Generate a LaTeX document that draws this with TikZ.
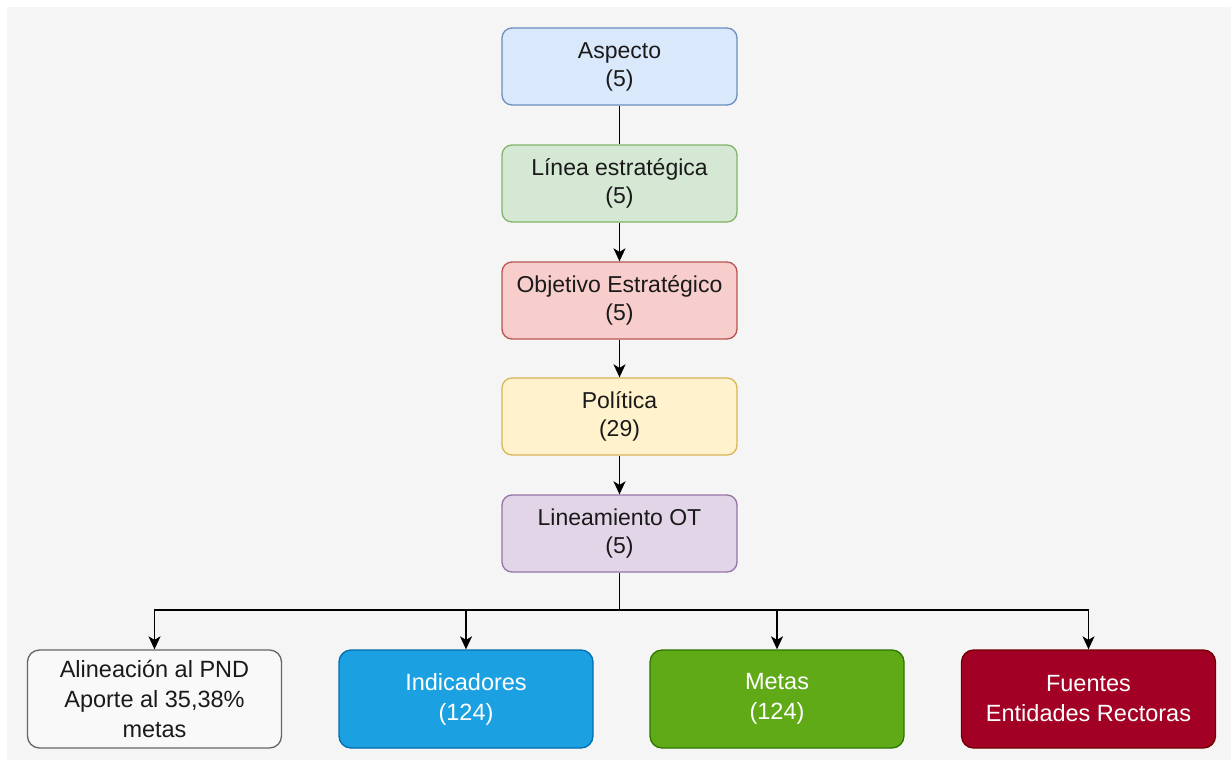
\documentclass[tikz,border=0pt]{standalone}
\usepackage{fontspec}
\setmainfont{Liberation Sans}
\usetikzlibrary{arrows.meta}
\definecolor{bluef}{HTML}{DAE8FC}\definecolor{blued}{HTML}{6C8EBF}
\definecolor{greenf}{HTML}{D5E8D4}\definecolor{greend}{HTML}{82B366}
\definecolor{redf}{HTML}{F8CECC}\definecolor{redd}{HTML}{B85450}
\definecolor{yellowf}{HTML}{FFF2CC}\definecolor{yellowd}{HTML}{D6B656}
\definecolor{purplef}{HTML}{E1D5E7}\definecolor{purpled}{HTML}{9673A6}
\definecolor{grayf}{HTML}{F9F9F9}\definecolor{grayd}{HTML}{666666}
\definecolor{indf}{HTML}{1BA1E2}\definecolor{indd}{HTML}{006EAF}
\definecolor{metf}{HTML}{60A917}\definecolor{metd}{HTML}{2D7600}
\definecolor{fuef}{HTML}{A20025}\definecolor{fued}{HTML}{6F0000}
\definecolor{bg}{HTML}{F5F5F5}
\definecolor{txt}{HTML}{1A1A1A}
\tikzset{
  topbox/.style={draw, line width=1.3pt, rounded corners=10pt, minimum width=235pt, minimum height=77pt, align=center, font=\fontsize{23}{28}\selectfont, text=txt, inner sep=0pt},
  botbox/.style={draw, line width=1.3pt, rounded corners=12pt, minimum width=254pt, minimum height=98pt, align=center, font=\fontsize{23.5}{30}\selectfont, inner sep=0pt},
  conn/.style={line width=1.6pt, draw=black},
  arr/.style={conn, -{Stealth[length=13pt, width=12pt, inset=3.5pt]}}
}
\begin{document}
\begin{tikzpicture}[x=1pt, y=-1pt]
\useasboundingbox (0,0) rectangle (1231,760);
\fill[white] (0,0) rectangle (1231,760);
\fill[bg] (7,7) rectangle (1231,760);
\node[topbox, fill=bluef, draw=blued] (asp) at (619.5,66.5) {Aspecto\\(5)};
\node[topbox, fill=greenf, draw=greend] (lin) at (619.5,183.5) {Línea estratégica\\(5)};
\node[topbox, fill=redf, draw=redd] (obj) at (619.5,300.5) {Objetivo Estratégico\\(5)};
\node[topbox, fill=yellowf, draw=yellowd] (pol) at (619.5,416.5) {Política\\(29)};
\node[topbox, fill=purplef, draw=purpled] (lot) at (619.5,533.5) {Lineamiento OT\\(5)};
\node[botbox, fill=grayf, draw=grayd, text=txt] (aln) at (154.5,699) {Alineación al PND\\Aporte al 35,38\%\\metas};
\node[botbox, fill=indf, draw=indd, text=white] (ind) at (466,699) {Indicadores\\(124)};
\node[botbox, fill=metf, draw=metd, text=white] (met) at (777,699) {Metas\\(124)};
\node[botbox, fill=fuef, draw=fued, text=white] (fue) at (1088.5,699) {Fuentes\\Entidades Rectoras};
\coordinate (bus) at (619.5,610);
\draw[conn] (asp) -- (lin);
\draw[arr] (lin) -- (obj);
\draw[arr] (obj) -- (pol);
\draw[arr] (pol) -- (lot);
\draw[conn] (lot.south) -- (bus);
\draw[arr] (bus) -| (aln.north);
\draw[arr] (bus) -| (ind.north);
\draw[arr] (bus) -| (met.north);
\draw[arr] (bus) -| (fue.north);
\end{tikzpicture}
\end{document}
